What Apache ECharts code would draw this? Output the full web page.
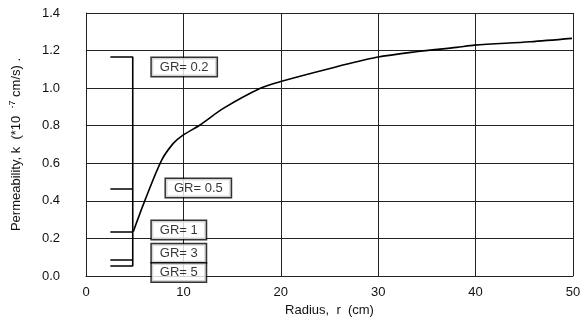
<!DOCTYPE html>
<html><head><meta charset="utf-8">
<script src="https://cdn.jsdelivr.net/npm/echarts@6/dist/echarts.min.js"></script>
<style>html,body{margin:0;padding:0;background:#fff}#c{width:587px;height:330px}</style>
</head><body><div id="c"></div>
<script>
var xTicks = [0, 10, 20, 30, 40, 50];
var yTicks = [0.0, 0.2, 0.4, 0.6, 0.8, 1.0, 1.2, 1.4];
var curveR = [4.85, 6.06, 7.77, 8.96, 9.82, 11.7, 14.1, 17.9, 19.9, 25.05, 29.85, 33.9, 38.05, 39.9, 45.6, 49.9];
var curveK = [0.236, 0.404, 0.617, 0.706, 0.745, 0.804, 0.892, 0.999, 1.034, 1.105, 1.164, 1.194, 1.217, 1.229, 1.247, 1.265];
var grNames = ['GR= 0.2', 'GR= 0.5', 'GR= 1', 'GR= 3', 'GR= 5'];
var grK = [1.166, 0.463, 0.234, 0.085, 0.053];
var bracketR = 4.8, tickStartR = 2.5;
var labelR = [6.45, 7.9, 6.45, 6.45, 6.45];
var labelK = [1.112, 0.468, 0.245, 0.121, 0.019];

var bracketData = [];
for (var i = 0; i < grK.length; i++) {
  bracketData.push([tickStartR, grK[i]]);
  bracketData.push([bracketR, grK[i]]);
  bracketData.push([bracketR, grK[i + 1] !== undefined ? grK[i + 1] : grK[i]]);
}
var curveData = curveR.map(function (r, i) { return [r, curveK[i]]; });
var labelData = grNames.map(function (n, i) { return [labelR[i], labelK[i], n]; });

var chart = echarts.init(document.getElementById('c'));
var font = 'Liberation Sans, Arial, sans-serif';
chart.setOption({
  animation: false,
  grid: { left: 86, right: 14, top: 13, bottom: 54 },
  xAxis: {
    type: 'value', min: 0, max: 50, interval: 10,
    axisLine: { show: true, lineStyle: { color: '#222', width: 1 } },
    axisTick: { show: false },
    splitLine: { show: true, lineStyle: { color: '#222', width: 1 } },
    axisLabel: { color: '#111', fontFamily: font, fontSize: 13, margin: 10 },
    name: 'Radius,  r  (cm)', nameLocation: 'middle', nameGap: 28,
    nameTextStyle: { color: '#111', fontFamily: font, fontSize: 13 }
  },
  yAxis: {
    type: 'value', min: 0, max: 1.4, interval: 0.2,
    axisLine: { show: true, lineStyle: { color: '#222', width: 1 } },
    axisTick: { show: false },
    splitLine: { show: true, lineStyle: { color: '#222', width: 1 } },
    axisLabel: { color: '#111', fontFamily: font, fontSize: 13, margin: 26,
      formatter: function (v) { return v.toFixed(1); } },
    name: '{a|Permeability, k  (*10  }{s|-7}{a| cm/s) .}', nameLocation: 'middle', nameGap: 62,
    nameTextStyle: { rich: {
      a: { color: '#111', fontFamily: font, fontSize: 13 },
      s: { color: '#111', fontFamily: font, fontSize: 9, verticalAlign: 'top', padding: [0, 0, 7, 0] }
    } }
  },
  series: [
    { type: 'line', data: curveData, smooth: 0.3, symbol: 'none',
      lineStyle: { color: '#000', width: 1.6 }, z: 5 },
    { type: 'line', data: bracketData, symbol: 'none',
      lineStyle: { color: '#000', width: 1.6 }, z: 5 },
    { type: 'scatter', data: labelData, symbolSize: 0, z: 10,
      label: { show: true, position: 'right', offset: [-2, 0],
        formatter: function (p) { return p.data[2]; },
        color: '#000', fontFamily: font, fontSize: 13,
        backgroundColor: '#fff', borderColor: '#000', borderWidth: 1.5,
        padding: [3, 8, 2, 8] } }
  ]
});
</script></body></html>
